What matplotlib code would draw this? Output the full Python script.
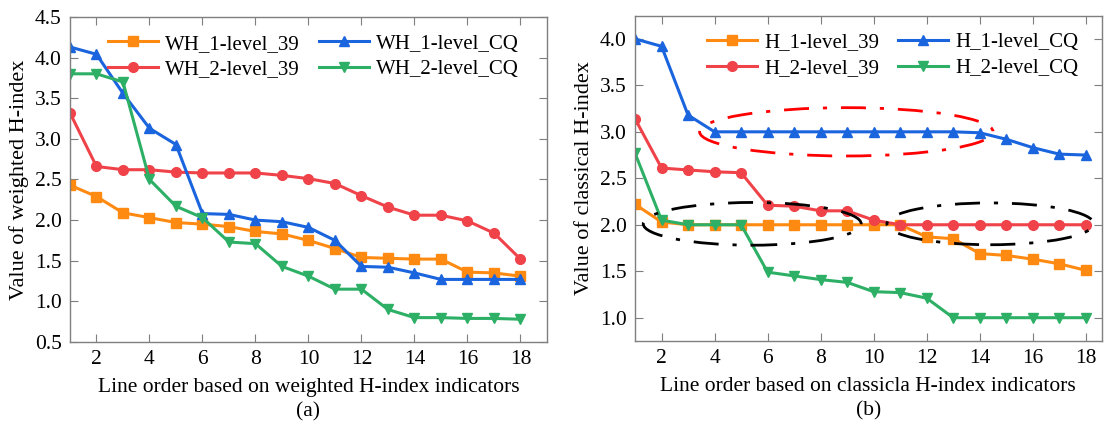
import numpy as np
import matplotlib.pyplot as plt
from matplotlib.patches import Ellipse

# -----------------------------
# DATA
# -----------------------------
order = np.arange(1, 19)

# (a) weighted H-index
wh_1_39 = [2.43, 2.29, 2.09, 2.03, 1.97, 1.95, 1.92, 1.86, 1.83, 1.75, 1.65, 1.54, 1.53, 1.52, 1.52, 1.36, 1.35, 1.31]
wh_2_39 = [3.32, 2.66, 2.62, 2.62, 2.59, 2.58, 2.58, 2.58, 2.55, 2.51, 2.45, 2.30, 2.16, 2.06, 2.06, 1.99, 1.84, 1.52]
wh_1_cq = [4.13, 4.04, 3.56, 3.13, 2.93, 2.08, 2.07, 2.00, 1.98, 1.91, 1.75, 1.43, 1.42, 1.35, 1.27, 1.27, 1.27, 1.27]
wh_2_cq = [3.80, 3.80, 3.70, 2.50, 2.17, 2.03, 1.73, 1.71, 1.43, 1.31, 1.15, 1.15, 0.90, 0.80, 0.80, 0.79, 0.79, 0.78]

# (b) classical H-index
h_1_39 = [2.22, 2.03, 2.00, 2.00, 2.00, 2.00, 2.00, 2.00, 2.00, 2.00, 2.00, 1.87, 1.85, 1.69, 1.67, 1.63, 1.58, 1.51]
h_2_39 = [3.14, 2.61, 2.59, 2.57, 2.56, 2.21, 2.20, 2.15, 2.15, 2.05, 2.00, 2.00, 2.00, 2.00, 2.00, 2.00, 2.00, 2.00]
h_1_cq = [4.00, 3.92, 3.18, 3.00, 3.00, 3.00, 3.00, 3.00, 3.00, 3.00, 3.00, 3.00, 3.00, 2.99, 2.92, 2.83, 2.76, 2.75]
h_2_cq = [2.77, 2.05, 2.00, 2.00, 2.00, 1.49, 1.45, 1.41, 1.38, 1.28, 1.27, 1.21, 1.00, 1.00, 1.00, 1.00, 1.00, 1.00]

ORANGE = "#FF8A12"
RED = "#EF4249"
BLUE = "#1A64DE"
GREEN = "#2DB066"

plt.rcParams["font.family"] = ["Liberation Serif", "DejaVu Serif"]
plt.rcParams["font.size"] = 15.5

fig = plt.figure(figsize=(11.05, 4.23), dpi=100)
ax1 = fig.add_axes([0.0633, 0.1915, 0.4317, 0.7685])
ax2 = fig.add_axes([0.5747, 0.194, 0.4223, 0.769])


def style_axes(ax):
    for s in ax.spines.values():
        s.set_color("#7f7f7f")
        s.set_linewidth(1.0)
    ax.tick_params(direction="in", top=True, right=True, length=6,
                   color="#7f7f7f", labelsize=15.5, pad=6)
    ax.set_xticks(np.arange(2, 19, 2))


kw = dict(linewidth=2.2, markersize=7)
leg_kw = dict(loc="upper left", ncol=2, frameon=False, handlelength=2.4,
              columnspacing=0.9, labelspacing=0.3, handletextpad=0.35, fontsize=15)

# -----------------------------
# (a)
# -----------------------------
ax1.plot(order, wh_1_39, color=ORANGE, marker="s", label="WH_1-level_39", **kw)
ax1.plot(order, wh_2_39, color=RED, marker="o", label="WH_2-level_39", **kw)
ax1.plot(order, wh_1_cq, color=BLUE, marker="^", label="WH_1-level_CQ", **kw)
ax1.plot(order, wh_2_cq, color=GREEN, marker="v", label="WH_2-level_CQ", **kw)
ax1.set_xlim(1, 19)
ax1.set_ylim(0.5, 4.5)
ax1.set_yticks(np.arange(0.5, 4.51, 0.5))
style_axes(ax1)
ax1.set_ylabel("Value of weighted H-index", fontsize=16)
ax1.set_xlabel("Line order based on weighted H-index indicators", fontsize=15.5, labelpad=6)
ax1.text(0.5, -0.228, "(a)", transform=ax1.transAxes, ha="center", va="baseline", fontsize=15.5)
ax1.legend(bbox_to_anchor=(0.04, 1.005), **leg_kw)

# -----------------------------
# (b)
# -----------------------------
ax2.plot(order, h_1_39, color=ORANGE, marker="s", label="H_1-level_39", **kw)
ax2.plot(order, h_2_39, color=RED, marker="o", label="H_2-level_39", **kw)
ax2.plot(order, h_1_cq, color=BLUE, marker="^", label="H_1-level_CQ", **kw)
ax2.plot(order, h_2_cq, color=GREEN, marker="v", label="H_2-level_CQ", **kw)
ax2.set_xlim(1, 18.6)
ax2.set_ylim(0.75, 4.25)
ax2.set_yticks(np.arange(1.0, 4.01, 0.5))
style_axes(ax2)
ax2.set_ylabel("Value of classical H-index", fontsize=16)
ax2.set_xlabel("Line order based on classicla H-index indicators", fontsize=15.5, labelpad=6)
ax2.text(0.5, -0.228, "(b)", transform=ax2.transAxes, ha="center", va="baseline", fontsize=15.5)
ax2.legend(bbox_to_anchor=(0.115, 1.005), **leg_kw)

# highlight ellipses
dash = (0, (9, 5, 1.5, 5))
ax2.add_patch(Ellipse((8.97, 3.0), 11.07, 0.52, fill=False, edgecolor="red",
                      linewidth=2, linestyle=dash, zorder=5))
ax2.add_patch(Ellipse((5.42, 2.01), 8.22, 0.46, fill=False, edgecolor="black",
                      linewidth=2, linestyle=dash, zorder=5))
ax2.add_patch(Ellipse((14.4, 2.01), 7.8, 0.45, fill=False, edgecolor="black",
                      linewidth=2, linestyle=dash, zorder=5))

fig.savefig("out.png", dpi=100)
